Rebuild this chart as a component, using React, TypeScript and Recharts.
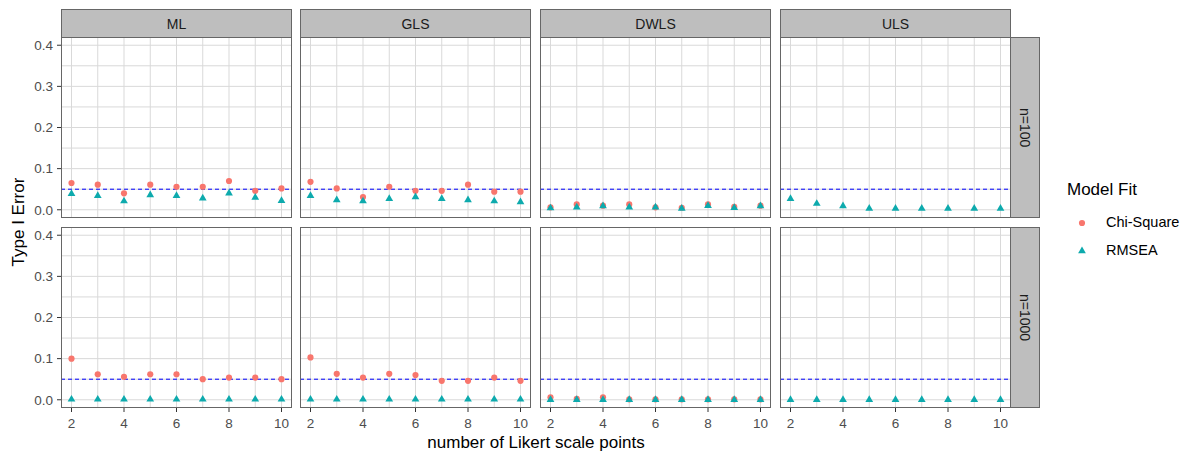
import {
  ScatterChart,
  Scatter,
  XAxis,
  YAxis,
  ReferenceLine,
  Symbols,
} from "recharts";

const likertPoints = [2, 3, 4, 5, 6, 7, 8, 9, 10];
const methods = ["ML", "GLS", "DWLS", "ULS"];
const sampleSizes = ["n=100", "n=1000"];
const xTicks = [2, 4, 6, 8, 10];
const yTicks = [0, 0.1, 0.2, 0.3, 0.4];
const yGrid = [0, 0.05, 0.1, 0.15, 0.2, 0.25, 0.3, 0.35, 0.4];
const alphaLevel = 0.05;

// n=100
const chiML100 = [0.065, 0.061, 0.04, 0.061, 0.056, 0.056, 0.07, 0.046, 0.052];
const rmseaML100 = [0.039, 0.034, 0.021, 0.036, 0.034, 0.028, 0.04, 0.03, 0.022];
const chiGLS100 = [0.068, 0.052, 0.031, 0.056, 0.046, 0.046, 0.061, 0.044, 0.044];
const rmseaGLS100 = [0.034, 0.024, 0.021, 0.027, 0.031, 0.027, 0.024, 0.021, 0.019];
const chiDWLS100 = [0.006, 0.013, 0.01, 0.013, 0.006, 0.005, 0.013, 0.007, 0.01];
const rmseaDWLS100 = [0.004, 0.006, 0.009, 0.006, 0.006, 0.003, 0.01, 0.005, 0.009];
const chiULS100: (number | null)[] = [null, null, null, null, null, null, null, null, null];
const rmseaULS100 = [0.027, 0.015, 0.009, 0.003, 0.003, 0.003, 0.003, 0.003, 0.003];

// n=1000
const chiML1000 = [0.1, 0.062, 0.056, 0.062, 0.062, 0.05, 0.054, 0.054, 0.05];
const rmseaML1000 = [0.001, 0.001, 0.001, 0.001, 0.001, 0.001, 0.001, 0.001, 0.001];
const chiGLS1000 = [0.103, 0.063, 0.054, 0.063, 0.06, 0.046, 0.046, 0.054, 0.046];
const rmseaGLS1000 = [0.001, 0.001, 0.001, 0.001, 0.001, 0.001, 0.001, 0.001, 0.001];
const chiDWLS1000 = [0.006, 0.002, 0.006, 0.001, 0.001, 0.001, 0.001, 0.001, 0.001];
const rmseaDWLS1000 = [0, 0, 0, 0, 0, 0, 0, 0, 0];
const chiULS1000: (number | null)[] = [null, null, null, null, null, null, null, null, null];
const rmseaULS1000 = [0, 0, 0, 0, 0, 0, 0, 0, 0];

const chiRows = [
  [chiML100, chiGLS100, chiDWLS100, chiULS100],
  [chiML1000, chiGLS1000, chiDWLS1000, chiULS1000],
];
const rmseaRows = [
  [rmseaML100, rmseaGLS100, rmseaDWLS100, rmseaULS100],
  [rmseaML1000, rmseaGLS1000, rmseaDWLS1000, rmseaULS1000],
];

const CHI_COLOR = "#F8766D";
const RMSEA_COLOR = "#0DAAAD";
const FONT = "'Liberation Sans', Arial, sans-serif";
const BORDER = "#666666";
const STRIP_FILL = "#BEBEBE";
const GRID = "#D9D9D9";
const CIRCLE_SIZE = 30;
const TRIANGLE_SIZE = 26;

// panel geometry (ggplot facet_grid look)
const colX = [61, 300, 540, 780];
const rowY = [37, 227];
const PANEL_W = 231;
const PANEL_H = 181;
const Y_AXIS_W = 40;
const X_AXIS_H = 30;
const STRIP_H = 29;
const STRIP_W = 30;

function toPoints(values: (number | null)[]) {
  return likertPoints
    .map((x, i) => ({ x, y: values[i] }))
    .filter((p) => p.y !== null);
}

const circleShape = (p: any) => (
  <Symbols type="circle" size={CIRCLE_SIZE} cx={p.cx} cy={p.cy} fill={CHI_COLOR} />
);
const triangleShape = (p: any) => (
  <Symbols type="triangle" size={TRIANGLE_SIZE} cx={p.cx} cy={p.cy} fill={RMSEA_COLOR} />
);

function Panel({ row, col }: { row: number; col: number }) {
  const showY = col === 0;
  const showX = row === 1;
  const width = PANEL_W + (showY ? Y_AXIS_W : 0);
  const height = PANEL_H + (showX ? X_AXIS_H : 0);
  const left = colX[col] - (showY ? Y_AXIS_W : 0);
  const chiData = toPoints(chiRows[row][col]);
  const rmseaData = toPoints(rmseaRows[row][col]);

  return (
    <div style={{ position: "absolute", left, top: rowY[row] }}>
      <ScatterChart
        width={width}
        height={height}
        margin={{ top: 0, right: 0, bottom: 0, left: 0 }}
      >
        <XAxis
          type="number"
          dataKey="x"
          domain={[1.6, 10.4]}
          ticks={xTicks}
          allowDataOverflow
          hide={!showX}
          height={X_AXIS_H}
          axisLine={false}
          tickLine={{ stroke: "#333333" }}
          tickSize={4}
          tickMargin={6}
          tick={{ fill: "#4D4D4D", fontSize: 13.5, fontFamily: FONT }}
        />
        <YAxis
          type="number"
          dataKey="y"
          domain={[-0.02, 0.42]}
          ticks={yTicks}
          allowDataOverflow
          hide={!showY}
          width={Y_AXIS_W}
          axisLine={false}
          tickLine={{ stroke: "#333333" }}
          tickSize={4}
          tickMargin={4}
          tickFormatter={(v: number) => v.toFixed(1)}
          tick={{ fill: "#4D4D4D", fontSize: 13.5, fontFamily: FONT }}
        />
        {yGrid.map((v) => (
          <ReferenceLine key={`gy-${v}`} y={v} stroke={GRID} strokeWidth={1} />
        ))}
        {likertPoints.map((v) => (
          <ReferenceLine key={`gx-${v}`} x={v} stroke={GRID} strokeWidth={1} />
        ))}
        <ReferenceLine
          y={alphaLevel}
          stroke="#0000FF"
          strokeWidth={1}
          strokeDasharray="4 3"
        />
        <Scatter
          name="Chi-Square"
          data={chiData}
          shape={circleShape}
          fill={CHI_COLOR}
          isAnimationActive={false}
        />
        <Scatter
          name="RMSEA"
          data={rmseaData}
          shape={triangleShape}
          fill={RMSEA_COLOR}
          isAnimationActive={false}
        />
      </ScatterChart>
      <div
        style={{
          position: "absolute",
          left: showY ? Y_AXIS_W : 0,
          top: 0,
          width: PANEL_W,
          height: PANEL_H,
          border: `1px solid ${BORDER}`,
          boxSizing: "border-box",
          pointerEvents: "none",
        }}
      />
    </div>
  );
}

export default function App() {
  return (
    <div
      style={{
        position: "absolute",
        left: 0,
        top: 0,
        width: 1193,
        height: 459,
        background: "#FFFFFF",
        fontFamily: FONT,
        overflow: "hidden",
      }}
    >
      {/* top strips */}
      {methods.map((m, i) => (
        <div
          key={m}
          style={{
            position: "absolute",
            left: colX[i],
            top: rowY[0] - STRIP_H + 1,
            width: PANEL_W,
            height: STRIP_H,
            background: STRIP_FILL,
            border: `1px solid ${BORDER}`,
            boxSizing: "border-box",
            display: "flex",
            alignItems: "center",
            justifyContent: "center",
            fontSize: 14,
            color: "#1A1A1A",
          }}
        >
          {m}
        </div>
      ))}
      {/* right strips */}
      {sampleSizes.map((s, j) => (
        <div
          key={s}
          style={{
            position: "absolute",
            left: colX[3] + PANEL_W - 1,
            top: rowY[j],
            width: STRIP_W,
            height: PANEL_H,
            background: STRIP_FILL,
            border: `1px solid ${BORDER}`,
            boxSizing: "border-box",
            display: "flex",
            alignItems: "center",
            justifyContent: "center",
            fontSize: 14,
            color: "#1A1A1A",
          }}
        >
          <span style={{ writingMode: "vertical-rl" }}>{s}</span>
        </div>
      ))}
      {[0, 1].map((r) => [0, 1, 2, 3].map((c) => <Panel key={`${r}-${c}`} row={r} col={c} />))}
      {/* axis titles */}
      <div
        style={{
          position: "absolute",
          left: 0,
          top: 433,
          width: 1072,
          textAlign: "center",
          fontSize: 17,
          color: "#000000",
        }}
      >
        number of Likert scale points
      </div>
      <div
        style={{
          position: "absolute",
          left: 19,
          top: 222,
          transform: "translate(-50%, -50%) rotate(-90deg)",
          fontSize: 17,
          whiteSpace: "nowrap",
          color: "#000000",
        }}
      >
        Type I Error
      </div>
      {/* legend */}
      <div style={{ position: "absolute", left: 1067, top: 180, fontSize: 17, color: "#000000" }}>
        Model Fit
      </div>
      <svg
        style={{ position: "absolute", left: 1070, top: 210 }}
        width={24}
        height={56}
      >
        <Symbols type="circle" size={CIRCLE_SIZE} cx={12} cy={13} fill={CHI_COLOR} />
        <Symbols type="triangle" size={TRIANGLE_SIZE} cx={12} cy={41} fill={RMSEA_COLOR} />
      </svg>
      <div style={{ position: "absolute", left: 1106, top: 214, fontSize: 14.5, color: "#000000" }}>
        Chi-Square
      </div>
      <div style={{ position: "absolute", left: 1106, top: 242, fontSize: 14.5, color: "#000000" }}>
        RMSEA
      </div>
    </div>
  );
}
